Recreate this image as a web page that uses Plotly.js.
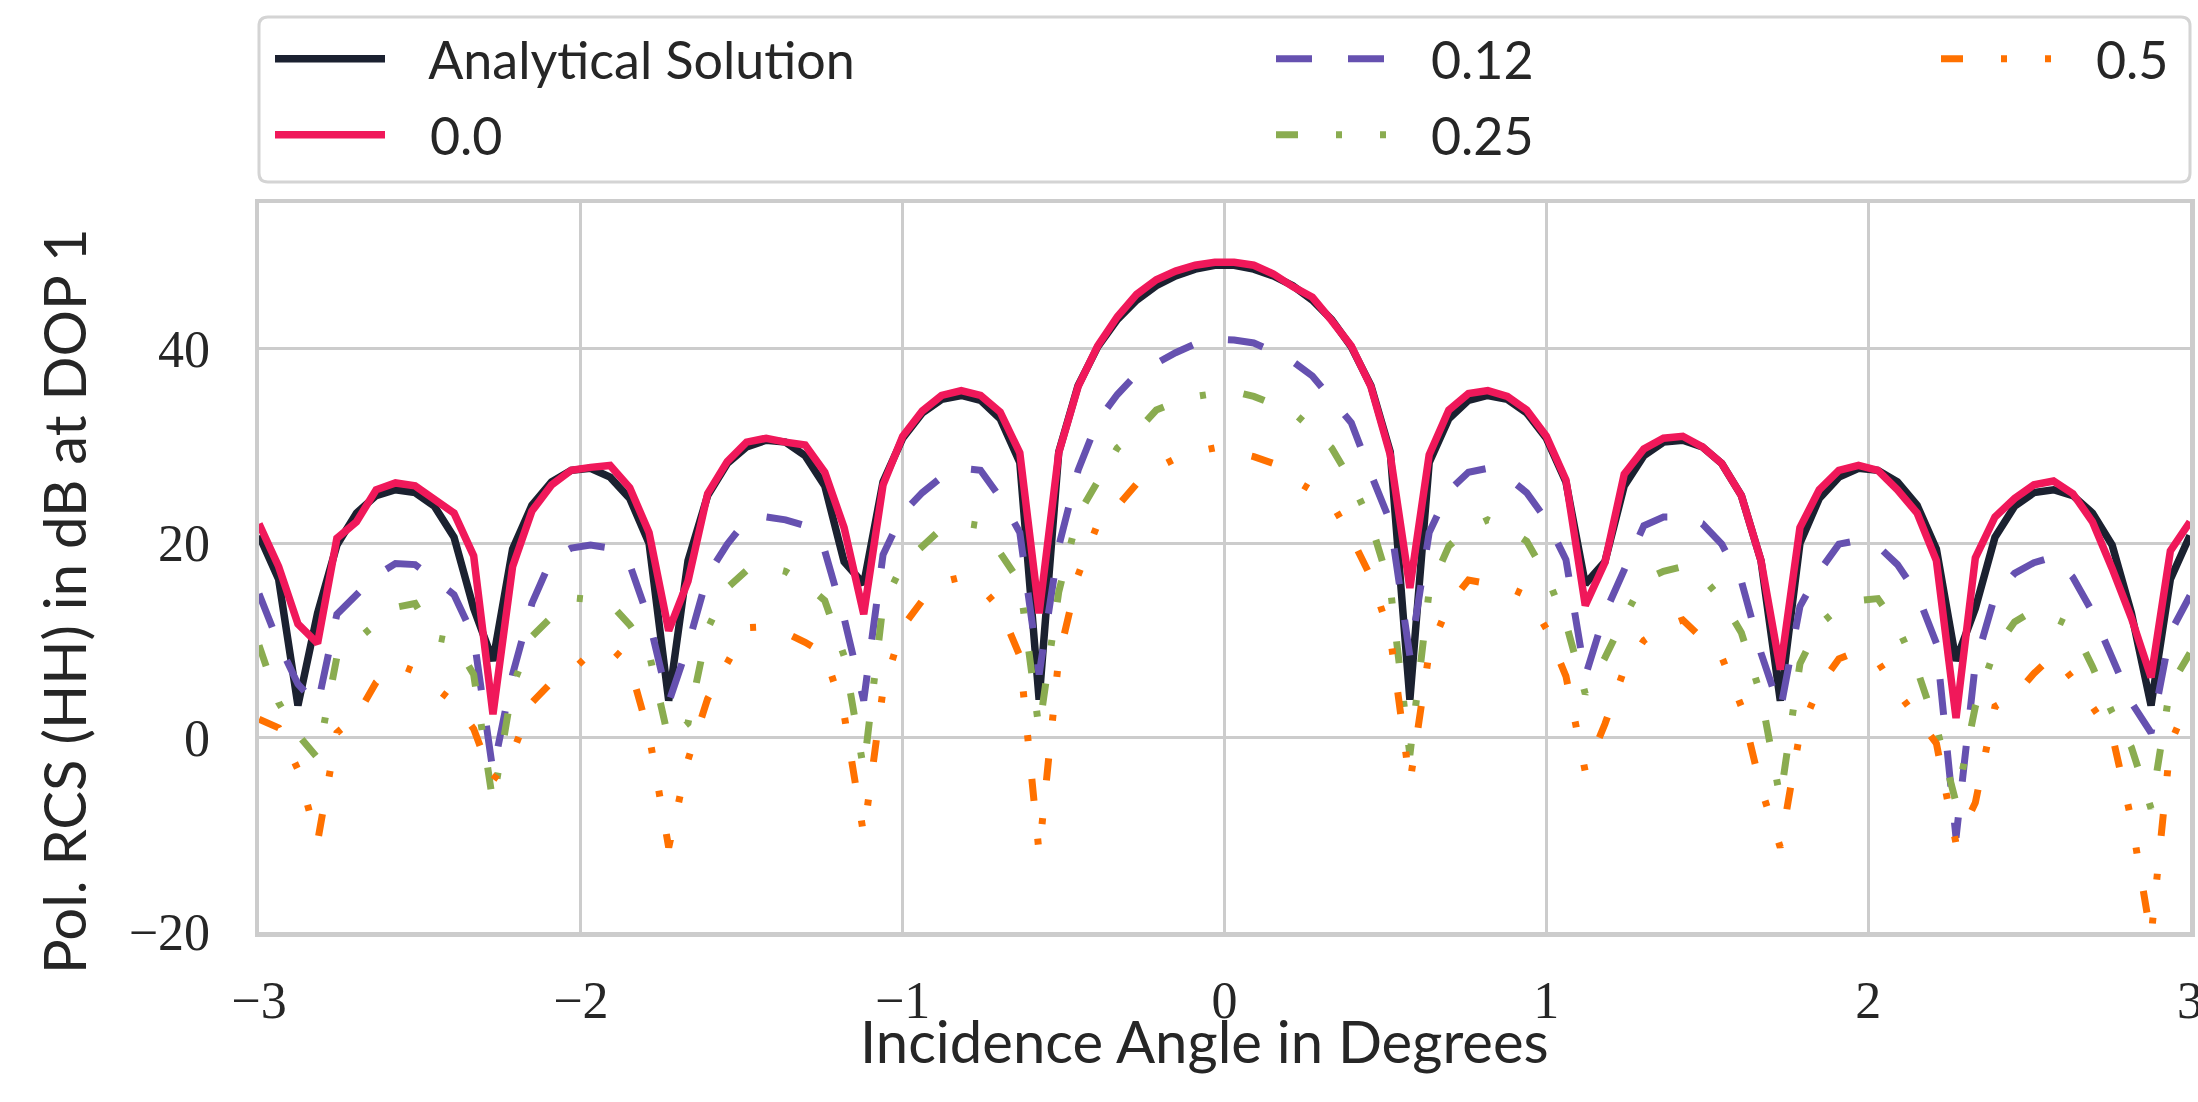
<!DOCTYPE html>
<html><head><meta charset="utf-8">
<script src="https://cdn.plot.ly/plotly-3.0.1.min.js"></script>
<style>html,body{margin:0;padding:0;background:#fff;} #chart{width:2198px;height:1102px;}</style>
</head><body><div id="chart"></div>
<script>
// Incidence angle (degrees)
const angle = [-3.000,-2.939,-2.879,-2.818,-2.758,-2.697,-2.636,-2.576,-2.515,-2.455,
-2.394,-2.333,-2.273,-2.212,-2.152,-2.091,-2.030,-1.970,-1.909,-1.848,
-1.788,-1.727,-1.667,-1.606,-1.545,-1.485,-1.424,-1.364,-1.303,-1.242,
-1.182,-1.121,-1.061,-1.000,-0.939,-0.879,-0.818,-0.758,-0.697,-0.636,
-0.576,-0.515,-0.455,-0.394,-0.333,-0.273,-0.212,-0.152,-0.091,-0.030,
0.030,0.091,0.152,0.212,0.273,0.333,0.394,0.455,0.515,0.576,
0.636,0.697,0.758,0.818,0.879,0.939,1.000,1.061,1.121,1.182,
1.242,1.303,1.364,1.424,1.485,1.545,1.606,1.667,1.727,1.788,
1.848,1.909,1.970,2.030,2.091,2.152,2.212,2.273,2.333,2.394,
2.455,2.515,2.576,2.636,2.697,2.758,2.818,2.879,2.939,3.000];

// Analytical Solution
const analytical = [20.8,16.3,3.3,12.8,19.8,23.1,24.9,25.5,25.2,23.8,
20.6,13.3,7.9,19.4,23.9,26.3,27.5,27.7,26.8,24.6,
20.0,3.8,18.2,24.9,28.2,29.9,30.6,30.4,29.0,25.9,
18.1,15.8,26.3,30.8,33.4,34.8,35.2,34.7,32.8,28.3,
3.9,29.4,36.2,40.2,43.0,45.0,46.5,47.5,48.2,48.6,
48.6,48.2,47.5,46.5,45.0,43.0,40.2,36.2,29.4,3.9,
28.3,32.8,34.7,35.2,34.8,33.4,30.8,26.3,15.8,18.1,
25.9,29.0,30.4,30.6,29.9,28.2,24.9,18.2,3.8,20.0,
24.6,26.8,27.7,27.5,26.3,23.9,19.4,7.9,13.3,20.6,
23.8,25.2,25.5,24.9,23.1,19.8,12.8,3.3,16.3,20.8];

// 0.0
const s00 = [22.0,17.6,11.7,9.7,20.5,22.2,25.5,26.2,25.9,24.6,
23.1,18.7,2.4,17.6,23.3,26.0,27.5,27.8,28.0,25.7,
21.1,11.0,16.1,25.1,28.4,30.4,30.8,30.4,30.1,27.3,
21.6,12.7,26.0,31.0,33.6,35.2,35.7,35.2,33.5,29.3,
12.8,29.3,36.1,40.3,43.3,45.6,47.1,48.0,48.6,48.9,
48.9,48.6,47.7,46.4,45.3,42.9,40.3,36.1,29.1,15.4,
29.1,33.7,35.4,35.7,35.1,33.7,31.0,26.5,13.6,18.0,
27.1,29.7,30.8,31.0,29.9,28.2,24.9,18.2,7.0,21.6,
25.5,27.5,28.0,27.5,25.5,23.1,18.2,2.0,18.5,22.7,
24.6,26.0,26.4,25.1,22.2,17.4,12.3,6.2,19.2,22.2];

// 0.12
const s012 = [14.8,9.7,5.5,3.3,12.7,14.8,16.7,17.9,17.8,16.3,
14.7,10.4,-3.5,6.5,13.8,18.4,19.5,19.8,19.5,17.8,
12.1,3.6,9.5,16.7,19.9,22.4,22.7,22.4,21.8,19.2,
12.3,3.8,18.8,23.1,25.2,26.8,27.7,27.5,24.7,21.1,
6.5,19.7,27.5,32.6,35.3,37.4,38.6,39.6,40.5,41.0,
40.9,40.6,39.7,38.7,37.2,34.9,32.4,27.1,22.2,8.4,
21.1,25.4,27.3,27.7,26.8,25.2,22.4,18.3,6.3,12.8,
17.4,21.8,22.7,22.7,22.0,19.9,16.1,8.7,2.8,13.5,
17.1,19.9,20.3,19.7,17.8,14.8,9.7,-10.3,7.6,14.6,
16.9,18.0,18.6,16.5,12.9,8.1,3.6,0.5,10.8,14.6];

// 0.25
const s025 = [9.5,3.6,0.3,-2.1,8.3,10.0,11.6,13.4,13.8,10.3,
9.9,6.5,-6.7,5.3,10.4,12.5,14.4,14.2,13.8,11.6,
8.7,-0.2,1.5,11.2,15.4,17.2,17.6,17.1,15.8,14.1,
8.4,-3.3,13.7,17.8,19.7,21.5,22.1,21.8,19.0,16.0,
0.8,15.0,22.9,26.4,29.8,31.5,33.7,34.5,35.1,35.4,
35.6,35.1,34.2,33.5,31.7,29.8,26.4,22.0,15.5,-1.8,
15.1,19.7,21.5,22.4,21.5,20.2,16.7,11.8,4.5,8.2,
12.3,16.2,17.1,17.6,16.5,14.2,10.8,4.3,-6.3,7.6,
11.6,13.3,14.1,14.3,11.4,7.0,1.1,-6.7,3.2,9.1,
11.9,13.1,12.3,11.4,7.3,2.6,-1.0,-7.3,5.3,8.7];

// 0.5
const s05 = [1.9,1.0,-3.3,-10.7,0.5,2.2,5.7,7.6,6.8,5.3,
3.6,0.9,-4.4,-1.6,3.6,5.7,6.8,8.7,9.3,7.4,
0.3,-11.3,-2.3,4.0,7.6,11.3,11.4,10.8,9.8,8.6,
2.4,-10.0,4.9,11.4,14.1,16.0,16.5,15.5,13.2,8.4,
-11.9,8.2,16.7,22.0,23.8,26.1,27.7,28.7,29.4,29.8,
29.4,28.9,28.2,26.6,25.4,24.1,20.6,16.5,10.5,-4.7,
8.8,13.7,16.2,15.8,15.5,14.6,11.2,6.3,-3.5,1.4,
7.0,10.0,11.4,12.1,10.3,8.3,3.2,-5.2,-11.3,0.5,
5.3,8.1,8.9,7.8,4.7,1.9,-0.6,-10.9,-6.7,3.2,
4.3,6.6,8.5,6.0,3.2,0.3,-8.5,-20.5,-0.6,4.1];

const seriesNames = ['Analytical Solution', '0.0', '0.12', '0.25', '0.5'];
const xTickVals = [-3, -2, -1, 0, 1, 2, 3];
const yTickVals = [-20, 0, 20, 40];
const xTitle = 'Incidence Angle in Degrees';
const yTitle = 'Pol. RCS (HH) in dB at DOP 1';

const W = 2198, H = 1102;
const L = 259, R = 2190, T = 203, B = 932;
const pw = R - L, ph = B - T;
const px2x = p => (p - L) / pw;
const py2y = p => (B - p) / ph;

const sans = 'Lato, "Open Sans", sans-serif';
const pad = '\u00a0\u00a0\u00a0';
const legFont = {family: sans, size: 52, color: '#262626'};
function leg(xpx, ypx) {
  return {x: px2x(xpx), y: py2y(ypx), xanchor: 'left', yanchor: 'middle',
    bgcolor: 'rgba(0,0,0,0)', borderwidth: 0, itemwidth: 110, font: legFont,
    itemclick: false, itemdoubleclick: false};
}

const styles = [
  {color: '#1b2130', dash: 'solid', width: 7.5, legend: 'legend'},
  {color: '#f0185a', dash: 'solid', width: 7.5, legend: 'legend2'},
  {color: '#6651b0', dash: '36px,36px', width: 7, legend: 'legend3'},
  {color: '#8aac50', dash: '22px,38px,6px,38px', width: 7, legend: 'legend4'},
  {color: '#ff7100', dash: '22px,38px,6px,38px,6px,38px', width: 7, legend: 'legend5'}
];
const ys = [analytical, s00, s012, s025, s05];

const traces = ys.map((y, k) => ({
  type: 'scatter', mode: 'lines', x: angle, y: y, name: pad + seriesNames[k],
  legend: styles[k].legend,
  line: {color: styles[k].color, width: styles[k].width, dash: styles[k].dash}
}));

// rounded legend frame
const rx = 9 / pw, ry = 9 / ph;
const bx0 = 0, bx1 = 1, by0 = py2y(182), by1 = py2y(17);
const framePath = `M ${bx0+rx},${by0} L ${bx1-rx},${by0} Q ${bx1},${by0} ${bx1},${by0+ry} ` +
  `L ${bx1},${by1-ry} Q ${bx1},${by1} ${bx1-rx},${by1} L ${bx0+rx},${by1} Q ${bx0},${by1} ${bx0},${by1-ry} ` +
  `L ${bx0},${by0+ry} Q ${bx0},${by0} ${bx0+rx},${by0} Z`;

const axisCommon = {
  showgrid: true, gridcolor: '#cccccc', gridwidth: 3,
  showline: true, mirror: true, linecolor: '#cccccc', linewidth: 4.5,
  zeroline: false, ticks: 'outside', tickcolor: 'rgba(0,0,0,0)', tickwidth: 1,
  ticklabeloverflow: 'allow',
  tickfont: {family: '"Liberation Serif", "DejaVu Serif", serif', size: 52, color: '#262626'}
};

const titleFont = {family: sans, size: 58, color: '#262626'};

const layout = {
  width: W, height: H,
  paper_bgcolor: '#ffffff', plot_bgcolor: '#ffffff',
  margin: {l: L, r: W - R, t: T, b: H - B, pad: 0},
  showlegend: true,
  xaxis: Object.assign({}, axisCommon, {
    range: [-3, 3], tickvals: xTickVals, ticklen: 19
  }),
  yaxis: Object.assign({}, axisCommon, {
    range: [-20, 55], tickvals: yTickVals, ticklen: 34
  }),
  legend: leg(270, 59),
  legend2: leg(270, 135),
  legend3: leg(1271, 59),
  legend4: leg(1271, 135),
  legend5: leg(1936, 59),
  annotations: [
    {text: xTitle, xref: 'paper', yref: 'paper', x: px2x(1204), y: py2y(1040),
     xanchor: 'center', yanchor: 'middle', showarrow: false, font: titleFont},
    {text: yTitle, xref: 'paper', yref: 'paper', x: px2x(63), y: py2y(601),
     xanchor: 'center', yanchor: 'middle', textangle: -90, showarrow: false, font: titleFont}
  ],
  shapes: [{type: 'path', xref: 'paper', yref: 'paper', path: framePath,
    line: {color: '#d4d4d4', width: 3}, fillcolor: 'rgba(255,255,255,0)'}]
};

Plotly.newPlot('chart', traces, layout, {displayModeBar: false, staticPlot: true});
</script>
</body></html>
